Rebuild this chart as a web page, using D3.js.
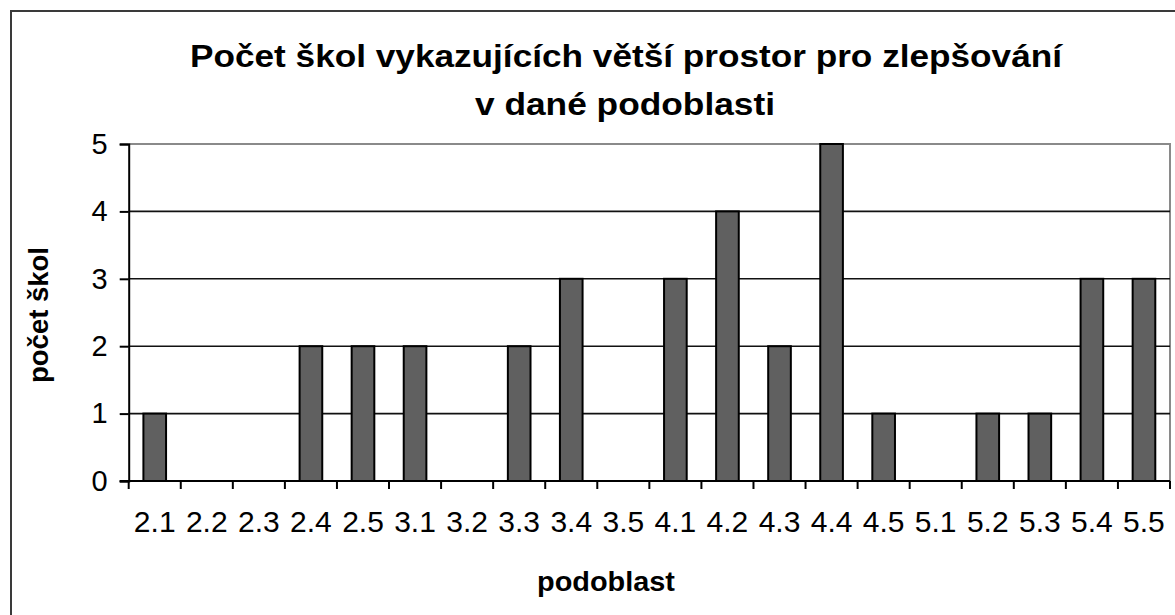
<!DOCTYPE html>
<html>
<head>
<meta charset="utf-8">
<script src="https://cdn.jsdelivr.net/npm/d3@7"></script>
<style>
  html, body { margin: 0; padding: 0; background: #fff; }
  svg { display: block; }
  text { font-family: "Liberation Sans", Arial, sans-serif; fill: #000; }
</style>
</head>
<body>
<svg id="chart" width="1175" height="615"></svg>
<script>
const categories = ["2.1","2.2","2.3","2.4","2.5","3.1","3.2","3.3","3.4","3.5","4.1","4.2","4.3","4.4","4.5","5.1","5.2","5.3","5.4","5.5"];
const values = [1,0,0,2,2,2,0,2,3,0,3,4,2,5,1,0,1,1,3,3];
const yTicks = [0,1,2,3,4,5];
const titleLines = ["Počet škol vykazujících větší prostor pro zlepšování", "v dané podoblasti"];
const xTitle = "podoblast";
const yTitle = "počet škol";

const svg = d3.select("#chart");
const m = { left: 128.7, right: 1170, top: 144, bottom: 481 };

// outer frame (left and top edges visible)
svg.append("path")
  .attr("d", `M11,615 L11,11 L1175,11`)
  .attr("fill", "none").attr("stroke", "#3a3a3a").attr("stroke-width", 2);

const x = d3.scaleBand().domain(categories).range([m.left, m.right]).paddingInner(0.565).paddingOuter(0.2825);
const xb = d3.scaleBand().domain(categories).range([m.left, m.right]);
const y = d3.scaleLinear().domain([0, 5]).range([m.bottom, m.top]);

// plot area border (top/right gray)
svg.append("path")
  .attr("d", `M${m.left},${m.top} L${m.right},${m.top} L${m.right},${m.bottom}`)
  .attr("fill", "none").attr("stroke", "#8a8a8a").attr("stroke-width", 2);

// gridlines
svg.append("g").selectAll("line").data(yTicks.filter(d => d > 0 && d < 5)).join("line")
  .attr("x1", m.left).attr("x2", m.right)
  .attr("y1", d => y(d)).attr("y2", d => y(d))
  .attr("stroke", "#111").attr("stroke-width", 1.6);

// bars
svg.append("g").selectAll("rect").data(values).join("rect")
  .attr("x", (d, i) => x(categories[i]))
  .attr("width", x.bandwidth())
  .attr("y", d => y(d))
  .attr("height", d => y(0) - y(d))
  .attr("fill", "#606060").attr("stroke", "#000").attr("stroke-width", 2)
  .attr("display", d => d > 0 ? null : "none");

// y axis
const yAxis = svg.append("g").attr("transform", `translate(${m.left},0)`)
  .call(d3.axisLeft(y).tickValues(yTicks).tickSize(9).tickPadding(12).tickFormat(d3.format("d")));
yAxis.select(".domain").attr("stroke", "#000").attr("stroke-width", 2);
yAxis.selectAll(".tick line").attr("stroke", "#000").attr("stroke-width", 2);
yAxis.selectAll("text").attr("font-size", 29).attr("font-family", "Liberation Sans, Arial, sans-serif").attr("fill", "#111");

// x axis: ticks at category boundaries
const xAxisG = svg.append("g").attr("transform", `translate(0,${m.bottom})`);
xAxisG.append("line").attr("x1", m.left - 9).attr("x2", m.right)
  .attr("y1", 0).attr("y2", 0).attr("stroke", "#000").attr("stroke-width", 2);
const bounds = categories.map(c => xb(c)).concat([m.right]);
xAxisG.selectAll("line.tk").data(bounds).join("line").attr("class", "tk")
  .attr("x1", d => d).attr("x2", d => d).attr("y1", 0).attr("y2", 8)
  .attr("stroke", "#000").attr("stroke-width", 2);
xAxisG.selectAll("text").data(categories).join("text")
  .attr("x", d => xb(d) + xb.bandwidth() / 2)
  .attr("y", 51)
  .attr("text-anchor", "middle")
  .attr("font-size", 30).attr("fill", "#111")
  .text(d => d);

// title
svg.append("text").attr("x", 626).attr("y", 67).attr("text-anchor", "middle")
  .attr("font-size", 32).attr("font-weight", "bold")
  .attr("textLength", 872).attr("lengthAdjust", "spacingAndGlyphs")
  .text(titleLines[0]);
svg.append("text").attr("x", 625).attr("y", 115).attr("text-anchor", "middle")
  .attr("font-size", 32).attr("font-weight", "bold")
  .attr("textLength", 300).attr("lengthAdjust", "spacingAndGlyphs")
  .text(titleLines[1]);

// axis titles
svg.append("text").attr("x", 606).attr("y", 591).attr("text-anchor", "middle")
  .attr("font-size", 27).attr("font-weight", "bold")
  .attr("textLength", 138).attr("lengthAdjust", "spacingAndGlyphs")
  .text(xTitle);
svg.append("text").attr("transform", "translate(48,315) rotate(-90)").attr("text-anchor", "middle")
  .attr("font-size", 27).attr("font-weight", "bold")
  .attr("textLength", 136).attr("lengthAdjust", "spacingAndGlyphs")
  .text(yTitle);
</script>
</body>
</html>
